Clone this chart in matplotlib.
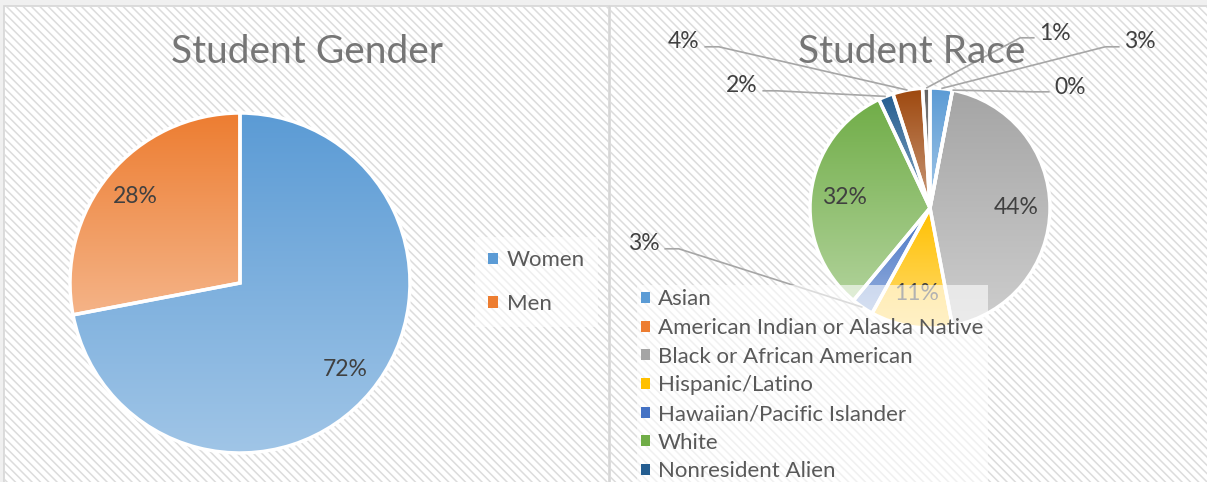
import matplotlib
matplotlib.use("Agg")
import matplotlib.pyplot as plt
import numpy as np
from matplotlib.patches import Rectangle, Patch
from matplotlib.colors import to_rgb

plt.rcParams['font.family'] = ['Lato', 'DejaVu Sans']
plt.rcParams['hatch.linewidth'] = 1.1
plt.rcParams['hatch.color'] = '#DCDCDC'

# ---------------- data ----------------
gender_labels = ['Women', 'Men']
gender_values = [72, 28]
gender_colors = ['#5B9BD5', '#ED7D31']

race_labels = ['Asian', 'American Indian or Alaska Native', 'Black or African American',
               'Hispanic/Latino', 'Hawaiian/Pacific Islander', 'White',
               'Nonresident Alien']
race_values = [3, 0, 44, 11, 3, 32, 2, 4, 1]
race_colors = ['#5B9BD5', '#ED7D31', '#A5A5A5', '#FFC000', '#4472C4', '#70AD47',
               '#255E91', '#9E480E', '#636363']

W, H = 1207, 482
fig = plt.figure(figsize=(W / 100, H / 100), dpi=100)
fig.patch.set_facecolor('#F0F0F0')

def fx(px):
    return px / W

def fy(py):
    return 1 - py / H

# panel backgrounds (white with diagonal stripes)
for x0, x1 in [(4, 609), (610, 1212)]:
    fig.patches.append(Rectangle((fx(x0), fy(490)), fx(x1) - fx(x0), fy(6) - fy(490),
                                 transform=fig.transFigure, facecolor='white',
                                 edgecolor='#D6D6D6', linewidth=1.2, zorder=-3))
    fig.patches.append(Rectangle((fx(x0 + 1), fy(490)), fx(x1) - fx(x0 + 1), fy(7) - fy(490),
                                 transform=fig.transFigure, facecolor='none',
                                 edgecolor='#DCDCDC', linewidth=0, hatch='\\\\\\\\', zorder=-2))

TXT = '#404040'
LEG = '#595959'
TITLE = '#767676'
LBL = 16.5
LEGFS = 16


def grad_fill(ax, wedge, color, amount=0.45, n=256):
    c = np.array(to_rgb(color))
    light = c + (1 - c) * amount
    t = np.linspace(0, 1, n)[:, None]
    img = (c[None, :] * (1 - t) + light[None, :] * t)[:, None, :]
    (x0, y0), (x1, y1) = wedge.get_path().get_extents().get_points()
    if x1 - x0 <= 1e-6 or y1 - y0 <= 1e-6:
        return
    im = ax.imshow(img, extent=[x0, x1, y0, y1], origin='upper', aspect='auto',
                   interpolation='bilinear', zorder=1)
    im.set_clip_path(wedge)
    wedge.set_facecolor('none')
    wedge.set_zorder(2)


def pie_axes(cx, cy, r):
    ax = fig.add_axes([fx(cx - r), fy(cy + r), fx(2 * r), (2 * r) / H])
    ax.set_axis_off()
    return ax

# ---------------- gender pie ----------------
axg = pie_axes(240, 283, 170)
wg, _ = axg.pie(gender_values, colors=gender_colors, startangle=90, counterclock=False,
                radius=1, wedgeprops=dict(edgecolor='white', linewidth=2.5))
for w, c in zip(wg, gender_colors):
    grad_fill(axg, w, c, amount=0.42)
for w, v in zip(wg, gender_values):
    ang = np.deg2rad((w.theta1 + w.theta2) / 2)
    axg.text(0.8 * np.cos(ang), 0.8 * np.sin(ang), f"{v:.0f}%", ha='center', va='center',
             fontsize=LBL, color=TXT, zorder=5)
axg.set_xlim(-1, 1)
axg.set_ylim(-1, 1)

fig.text(fx(307), fy(52), 'Student Gender', ha='center', va='center', fontsize=28, color=TITLE)

g_handles = [Patch(facecolor=c, edgecolor='none') for c in gender_colors]
fig.legend(g_handles, gender_labels, loc='upper left', bbox_to_anchor=(fx(475), fy(237)),
           borderaxespad=0, frameon=True, framealpha=0.55, facecolor='white', edgecolor='none',
           fancybox=False, fontsize=LEGFS, labelcolor=LEG, handlelength=0.42, handleheight=0.42,
           handletextpad=0.4, labelspacing=1.07, borderpad=0.6)

# ---------------- race pie ----------------
RCX, RCY, RR = 930, 208, 120
axr = pie_axes(RCX, RCY, RR)
wr, _ = axr.pie(race_values, colors=race_colors, startangle=90, counterclock=False,
                radius=1, wedgeprops=dict(edgecolor='white', linewidth=2.5))
for w, c in zip(wr, race_colors):
    grad_fill(axr, w, c, amount=0.45)
axr.set_xlim(-1, 1)
axr.set_ylim(-1, 1)

# external label anchor positions (pixels) for small slices
ext_pos = {0: (1140, 42), 1: (1070, 87), 4: (644, 244), 6: (742, 86), 7: (684, 42), 8: (1055, 33)}

def to_data(px, py):
    return ((px - RCX) / RR, (RCY - py) / RR)

for i, (w, v) in enumerate(zip(wr, race_values)):
    ang = np.deg2rad((w.theta1 + w.theta2) / 2)
    label = f"{v:.0f}%"
    if i in ext_pos:
        lx, ly = to_data(*ext_pos[i])
        axr.text(lx, ly, label, ha='center', va='center', fontsize=LBL, color=TXT,
                 clip_on=False, zorder=6)
        side = 1 if lx < np.cos(ang) else -1
        sx = lx + side * 0.17
        sy = ly - 0.04
        ex = sx + side * 0.12
        px_, py_ = np.cos(ang), np.sin(ang)
        axr.plot([sx, ex, px_], [sy, sy, py_], color='#A6A6A6', linewidth=1.2,
                 clip_on=False, zorder=5, solid_capstyle='butt')
    else:
        axr.text(0.72 * np.cos(ang), 0.72 * np.sin(ang), label, ha='center', va='center',
                 fontsize=LBL, color=TXT, zorder=5)

fig.text(fx(912), fy(52), 'Student Race', ha='center', va='center', fontsize=28, color=TITLE)

r_handles = [Patch(facecolor=c, edgecolor='none') for c in race_colors[:len(race_labels)]]
fig.legend(r_handles, race_labels, loc='upper left', bbox_to_anchor=(fx(637), fy(285)),
           borderaxespad=0, frameon=True, framealpha=0.6, facecolor='white', edgecolor='none',
           fancybox=False, fontsize=LEGFS, labelcolor=LEG, handlelength=0.38, handleheight=0.38,
           handletextpad=0.36, labelspacing=0.39, borderpad=0.2)

fig.savefig('out.png', dpi=100, facecolor=fig.get_facecolor())
